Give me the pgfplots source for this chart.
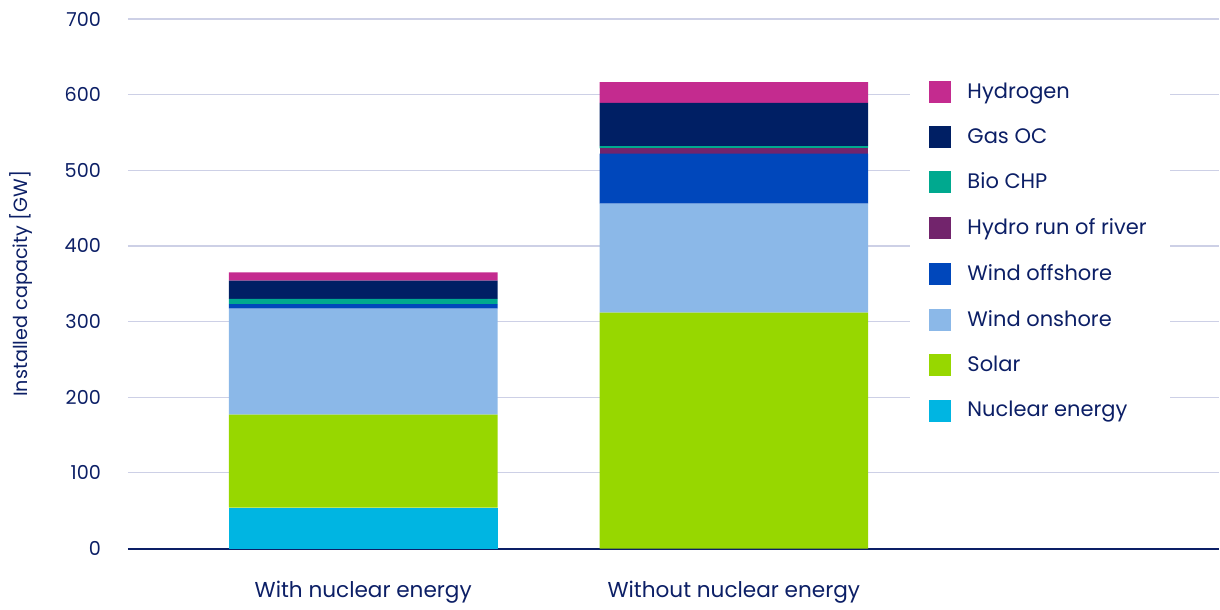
\documentclass[border=0pt]{standalone}
\usepackage{pgfplots}
\pgfplotsset{compat=1.18}
\usepackage{fontspec}
\setmainfont{Poppins}
\definecolor{txt}{HTML}{0C1F66}
\definecolor{gridc}{HTML}{CDD0E6}
\definecolor{cnuc}{HTML}{00B5E2}
\definecolor{csol}{HTML}{97D700}
\definecolor{con}{HTML}{8BB8E8}
\definecolor{coff}{HTML}{0047BB}
\definecolor{chyd}{HTML}{72246C}
\definecolor{cbio}{HTML}{00A98F}
\definecolor{cgas}{HTML}{001F64}
\definecolor{ch2}{HTML}{C42B8F}
\begin{document}
\begin{tikzpicture}
\begin{axis}[
  scale only axis, width=546pt, height=265pt,
  ybar stacked, bar width=0.725,
  xmin=-0.635, xmax=2.309, ymin=0, ymax=700,
  xtick={0,1}, xticklabels={With nuclear energy, Without nuclear energy},
  ytick={0,100,...,700},
  /pgf/number format/assume math mode=true,
  axis lines=left, axis line style={-},
  x axis line style={txt, line width=1pt},
  y axis line style={draw=none},
  ymajorgrids, major grid style={gridc, line width=0.6pt},
  major tick length=0pt, tick style={draw=none},
  yticklabel style={font=\fontsize{9.6}{11}\selectfont, text=txt, anchor=east, xshift=-10pt},
  xticklabel style={font=\fontsize{10.8}{13}\selectfont, text=txt, anchor=base, yshift=-24.5pt},
  ylabel={Installed capacity [GW]},
  ylabel style={font=\fontsize{9.6}{11}\selectfont, text=txt, at={([xshift=-53.5pt]axis description cs:0,0.5)}, anchor=center},
  reverse legend,
  legend cell align=left,
  legend image code/.code={\fill[#1] (0pt,-5.5pt) rectangle (11pt,5.5pt);},
  legend style={at={(axis description cs:0.716,0.895)}, anchor=north west, draw=none, fill=white,
    inner xsep=9.5pt,
    font=\fontsize{10.5}{12}\selectfont, text=txt, row sep=9.4pt,
    /tikz/every odd column/.append style={column sep=6.5pt}},
]
\addplot[fill=cnuc, draw=none] coordinates {(0,54) (1,0)};
\addplot[fill=csol, draw=none] coordinates {(0,123) (1,312)};
\addplot[fill=con, draw=none] coordinates {(0,140) (1,144)};
\addplot[fill=coff, draw=none] coordinates {(0,6) (1,66)};
\addplot[fill=chyd, draw=none] coordinates {(0,0) (1,7)};
\addplot[fill=cbio, draw=none] coordinates {(0,7) (1,3)};
\addplot[fill=cgas, draw=none] coordinates {(0,24) (1,57)};
\addplot[fill=ch2, draw=none] coordinates {(0,11) (1,27.5)};
\legend{Nuclear energy, Solar, Wind onshore, Wind offshore, Hydro run of river, Bio CHP, Gas OC, Hydrogen}
\end{axis}
\path ([xshift=-64pt,yshift=-27pt]current axis.south west) rectangle ([yshift=9.5pt]current axis.north east);
\end{tikzpicture}
\end{document}
